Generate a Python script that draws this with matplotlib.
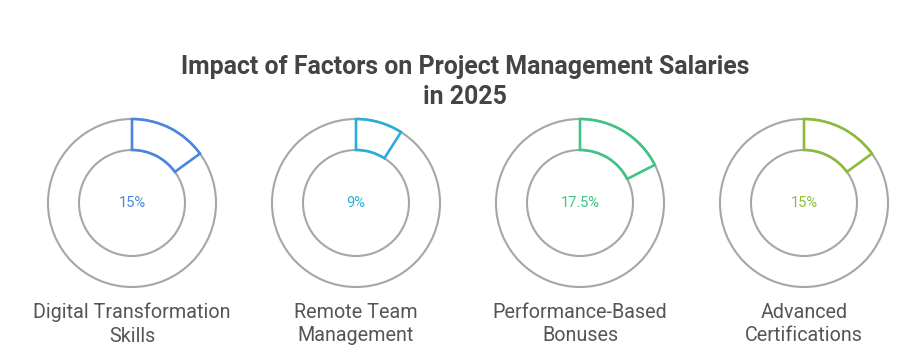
import matplotlib.pyplot as plt
from matplotlib.patches import Circle, Wedge

plt.rcParams['font.family'] = ['Roboto', 'DejaVu Sans']

title = 'Impact of Factors on Project Management Salaries\nin 2025'
labels = ['Digital Transformation\nSkills', 'Remote Team\nManagement',
          'Performance-Based\nBonuses', 'Advanced\nCertifications']
values = [15, 9, 17.5, 15]
value_text = ['15%', '9%', '17.5%', '15%']
colors = ['#4a86e0', '#29aedc', '#3ec483', '#8cbb3c']

fig = plt.figure(figsize=(9.12, 3.59), dpi=100)
ax = fig.add_axes([0, 0, 1, 1])
ax.set_xlim(0, 912)
ax.set_ylim(359, 0)
ax.set_aspect('equal')
ax.axis('off')

r_out, r_in = 84, 53
cy = 203
for i, (lab, v, txt, c) in enumerate(zip(labels, values, value_text, colors)):
    cx = 132 + i * 224
    ax.add_patch(Circle((cx, cy), r_out, fill=False, ec='#a6a6a6', lw=1.5))
    ax.add_patch(Circle((cx, cy), r_in, fill=False, ec='#a6a6a6', lw=1.5))
    # y axis is inverted, so angles run clockwise on screen
    ax.add_patch(Wedge((cx, cy), r_out, -90, -90 + 360 * v / 100,
                       width=r_out - r_in, fill=False, ec=c, lw=1.9, zorder=3))
    ax.text(cx, cy, txt, ha='center', va='center', color=c, fontsize=10.5)
    ax.text(cx, 324, lab, ha='center', va='center', color='#555555',
            fontsize=14.2, linespacing=1.3)

ax.text(465, 82, title, ha='center', va='center', color='#444444',
        fontsize=17.9, fontweight='bold', linespacing=1.28)

fig.savefig('out.png', dpi=100, facecolor='white')
